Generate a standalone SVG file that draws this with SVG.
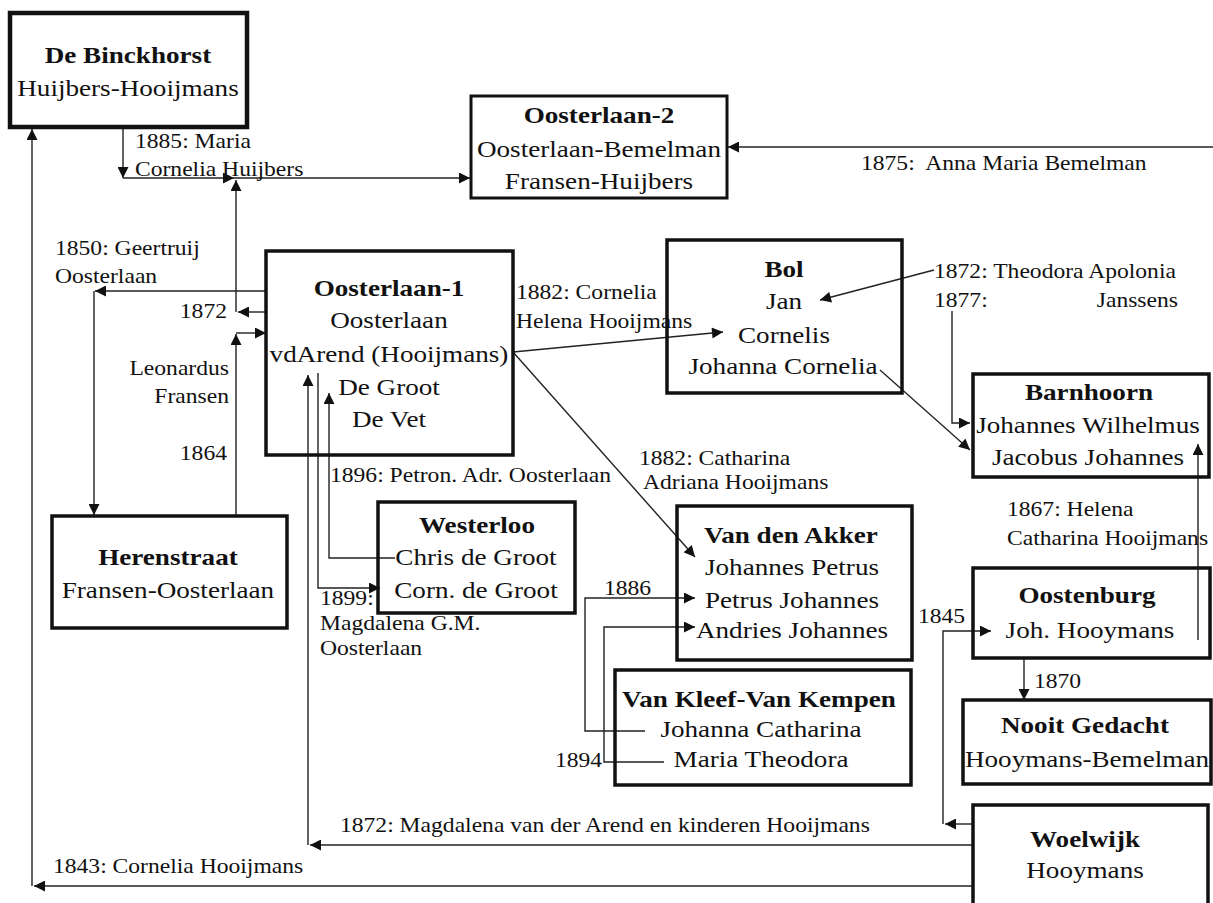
<svg xmlns="http://www.w3.org/2000/svg" width="1213" height="903" viewBox="0 0 1213 903">
<style>
text{font-family:"Liberation Serif","Times New Roman",serif;fill:#111;transform-box:fill-box;transform:scaleX(1.18)}
.n text{font-size:23px;text-anchor:middle;transform-origin:center}
.n text.h{font-weight:bold}
.box{fill:#fff;stroke:#111;stroke-width:3.5}
.lb{font-size:20px}
.s{transform-origin:left}
.e{text-anchor:end;transform-origin:right}
#conn path{fill:none;stroke:#222;stroke-width:1.4}
#conn path.a{marker-end:url(#ah)}
</style>
<defs>
<marker id="ah" viewBox="0 0 10 10" refX="10" refY="5" markerWidth="12" markerHeight="11" markerUnits="userSpaceOnUse" orient="auto"><path d="M0,0 L10,5 L0,10 z" fill="#111"/></marker>
</defs>
<rect width="1213" height="903" fill="#fff"/>

<g id="conn">
<path class="a" d="M123,128 V178"/>
<path class="a" d="M123,178 H234"/>
<path class="a" d="M234,178 H470"/>
<path class="a" d="M1213,147 H728"/>
<path class="a" d="M266,312 H238"/>
<path class="a" d="M236,312 V180"/>
<path class="a" d="M266,291 H95"/>
<path class="a" d="M94,291 V515"/>
<path class="a" d="M236,515 V334"/>
<path class="a" d="M236,333 H266"/>
<path class="a" d="M972,886 H34"/>
<path class="a" d="M32,886 V129"/>
<path class="a" d="M972,845 H310"/>
<path class="a" d="M308,845 V375"/>
<path class="a" d="M318,373 V588 H380"/>
<path class="a" d="M395,558 H329 V393"/>
<path class="a" d="M513,352 L723,332"/>
<path class="a" d="M513,352 L695,557"/>
<path class="a" d="M934,270 L820,300"/>
<path class="a" d="M952,311 V423 H970"/>
<path class="a" d="M880,370 L970,450"/>
<path class="a" d="M1198,640 V444"/>
<path class="a" d="M645,731 H585 V598 H695"/>
<path class="a" d="M664,762 H604 V627 H695"/>
<path class="a" d="M972,824 H945"/>
<path class="a" d="M943,824 V631 H991"/>
<path class="a" d="M1024,658 V700"/>
</g>

<g id="labels" class="lb">
<text class="s" x="135" y="148">1885: Maria</text>
<text class="s" x="135" y="176">Cornelia Huijbers</text>
<text class="s" x="861" y="170">1875:&#160; Anna Maria Bemelman</text>
<text class="s" x="55" y="255">1850: Geertruij</text>
<text class="s" x="55" y="283">Oosterlaan</text>
<text class="e" x="227" y="318">1872</text>
<text class="e" x="229" y="375">Leonardus</text>
<text class="e" x="229" y="403">Fransen</text>
<text class="e" x="227" y="460">1864</text>
<text class="s" x="516" y="299">1882: Cornelia</text>
<text class="s" x="516" y="328">Helena Hooijmans</text>
<text class="s" x="934" y="278">1872: Theodora Apolonia</text>
<text class="s" x="934" y="307">1877:</text>
<text class="e" x="1178" y="307">Janssens</text>
<text class="s" x="330" y="482">1896: Petron. Adr. Oosterlaan</text>
<text class="s" x="639" y="465">1882: Catharina</text>
<text class="s" x="643" y="489">Adriana Hooijmans</text>
<text class="s" x="1007" y="516">1867: Helena</text>
<text class="s" x="1007" y="545">Catharina Hooijmans</text>
<text class="s" x="320" y="605">1899:</text>
<text class="s" x="320" y="630">Magdalena G.M.</text>
<text class="s" x="320" y="655">Oosterlaan</text>
<text class="s" x="604" y="595">1886</text>
<text class="s" x="918" y="623">1845</text>
<text class="s" x="1034" y="688">1870</text>
<text class="s" x="555" y="767">1894</text>
<text class="s" x="340" y="832">1872: Magdalena van der Arend en kinderen Hooijmans</text>
<text class="s" x="53" y="873">1843: Cornelia Hooijmans</text>
</g>

<g id="binckhorst" class="n">
<rect class="box" x="10" y="13" width="237" height="114" style="stroke-width:4.5"/>
<text class="h" x="128" y="63">De Binckhorst</text>
<text x="128" y="96">Huijbers-Hooijmans</text>
</g>

<g id="oosterlaan2" class="n">
<rect class="box" x="471" y="96" width="256" height="102" style="stroke-width:3"/>
<text class="h" x="599" y="123">Oosterlaan-2</text>
<text x="599" y="157">Oosterlaan-Bemelman</text>
<text x="599" y="189">Fransen-Huijbers</text>
</g>

<g id="oosterlaan1" class="n">
<rect class="box" x="266" y="251" width="247" height="204" style="fill:none"/>
<text class="h" x="389" y="296">Oosterlaan-1</text>
<text x="389" y="328">Oosterlaan</text>
<text x="389" y="362">vdArend (Hooijmans)</text>
<text x="389" y="395">De Groot</text>
<text x="389" y="427">De Vet</text>
</g>

<g id="bol" class="n">
<rect class="box" x="667" y="240" width="235" height="153" style="fill:none"/>
<text class="h" x="784" y="277">Bol</text>
<text x="784" y="309">Jan</text>
<text x="784" y="343">Cornelis</text>
<text x="783" y="374">Johanna Cornelia</text>
</g>

<g id="barnhoorn" class="n">
<rect class="box" x="973" y="374" width="236" height="103" style="fill:none"/>
<text class="h" x="1089" y="400">Barnhoorn</text>
<text x="1088" y="433">Johannes Wilhelmus</text>
<text x="1088" y="465">Jacobus Johannes</text>
</g>

<g id="herenstraat" class="n">
<rect class="box" x="52" y="516" width="235" height="112"/>
<text class="h" x="168" y="565">Herenstraat</text>
<text x="168" y="598">Fransen-Oosterlaan</text>
</g>

<g id="westerloo" class="n">
<rect class="box" x="378" y="502" width="197" height="111" style="fill:none"/>
<text class="h" x="477" y="533">Westerloo</text>
<text x="476" y="565">Chris de Groot</text>
<text x="476" y="598">Corn. de Groot</text>
</g>

<g id="vandenakker" class="n">
<rect class="box" x="677" y="506" width="235" height="154" style="fill:none"/>
<text class="h" x="791" y="543">Van den Akker</text>
<text x="792" y="575">Johannes Petrus</text>
<text x="792" y="608">Petrus Johannes</text>
<text x="792" y="638">Andries Johannes</text>
</g>

<g id="vankleef" class="n">
<rect class="box" x="615" y="670" width="296" height="115" style="fill:none"/>
<text class="h" x="759" y="707">Van Kleef-Van Kempen</text>
<text x="761" y="737">Johanna Catharina</text>
<text x="761" y="767">Maria Theodora</text>
</g>

<g id="oostenburg" class="n">
<rect class="box" x="973" y="568" width="237" height="90" style="fill:none"/>
<text class="h" x="1087" y="603">Oostenburg</text>
<text x="1090" y="638">Joh. Hooymans</text>
</g>

<g id="nooitgedacht" class="n">
<rect class="box" x="963" y="700" width="248" height="84"/>
<text class="h" x="1085" y="733">Nooit Gedacht</text>
<text x="1087" y="767">Hooymans-Bemelman</text>
</g>

<g id="woelwijk" class="n">
<rect class="box" x="973" y="805" width="235" height="110"/>
<text class="h" x="1085" y="847">Woelwijk</text>
<text x="1085" y="878">Hooymans</text>
</g>
</svg>
